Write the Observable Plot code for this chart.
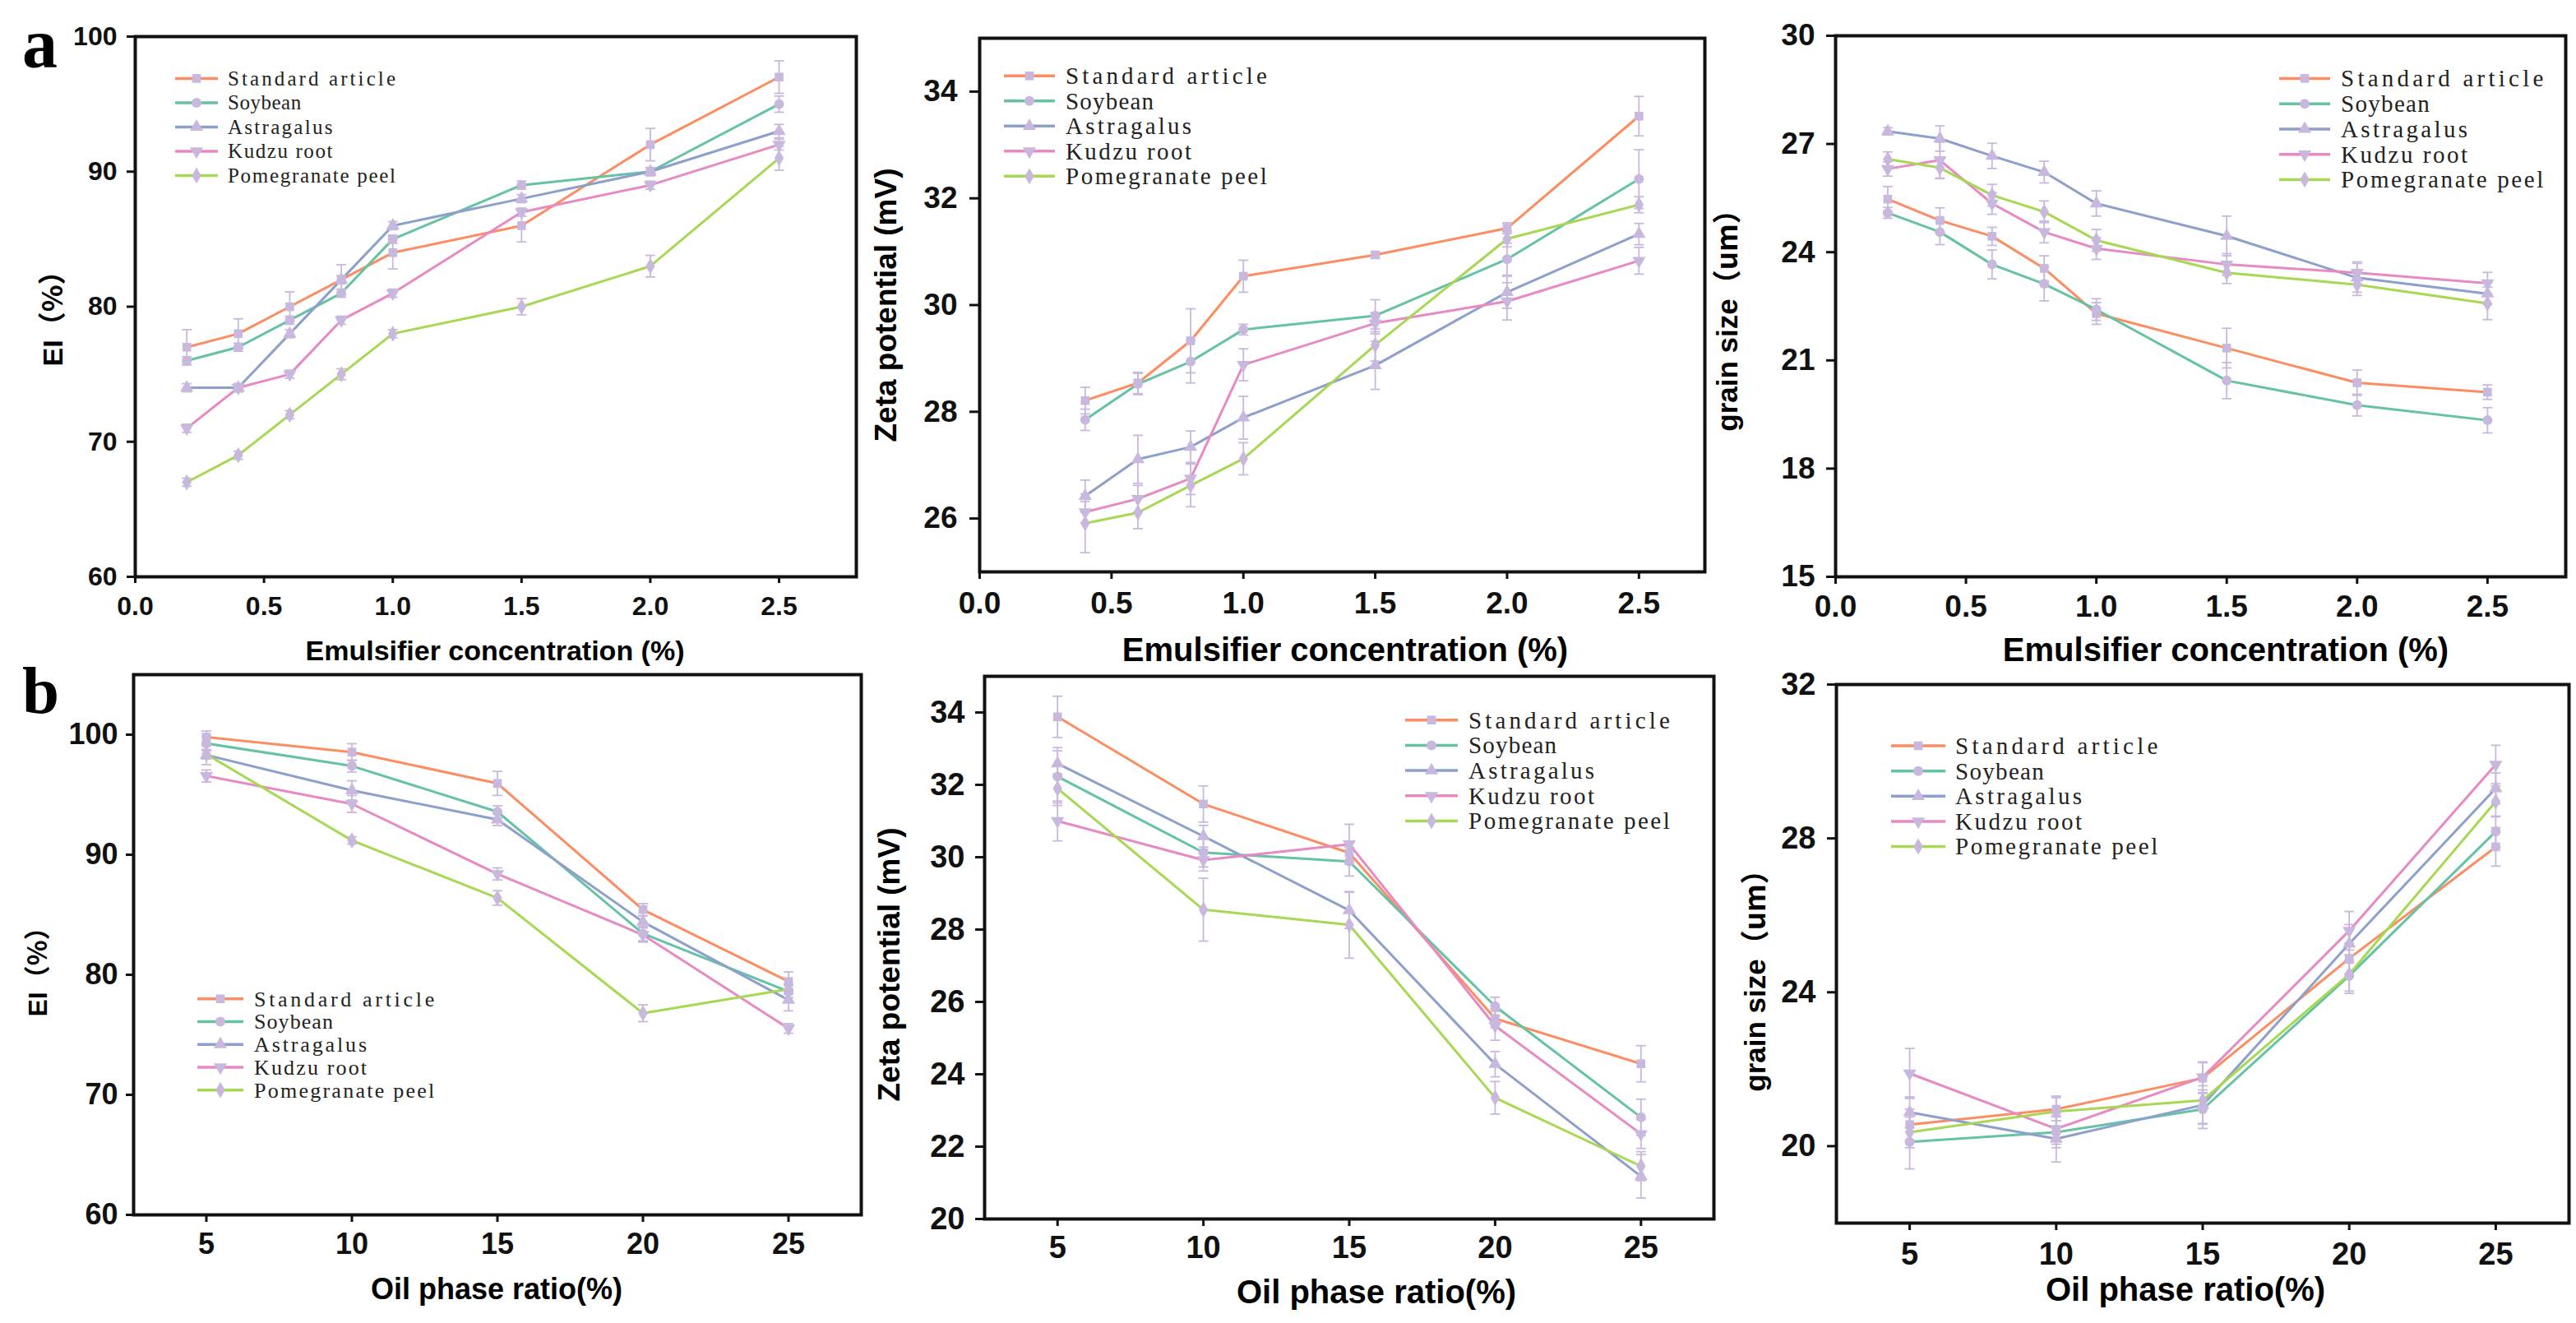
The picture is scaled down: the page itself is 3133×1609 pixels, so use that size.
<!DOCTYPE html>
<html>
<head>
<meta charset="utf-8">
<script src="https://cdn.jsdelivr.net/npm/d3@7"></script>
<script src="https://cdn.jsdelivr.net/npm/@observablehq/plot@0.6"></script>
<style>
  html, body { margin: 0; padding: 0; background: #fff; }
  #page { position: relative; width: 3133px; height: 1609px; overflow: hidden; background: #fff; }
  #page > svg, #page > figure { position: absolute; margin: 0; }
  #overlay { position: absolute; left: 0; top: 0; pointer-events: none; }
</style>
</head>
<body>
<div id="page"></div>
<script>
// ---------- data ----------
const SERIES = ["Standard article", "Soybean", "Astragalus", "Kudzu root", "Pomegranate peel"];
const COLORS = ["#fc8d62", "#66c2a5", "#8da0cb", "#e78ac3", "#a6d854"];
const MARKER = "#c8b8dd";

const CONC8 = [0.2, 0.4, 0.6, 0.8, 1.0, 1.5, 2.0, 2.5];
const CONC7 = [0.4, 0.6, 0.8, 1.0, 1.5, 2.0, 2.5];
const OIL = [5, 10, 15, 20, 25];

const CONC_TICKS = [0, 0.5, 1.0, 1.5, 2.0, 2.5];
const OIL_TICKS = [5, 10, 15, 20, 25];
const EI_TICKS_A = [60, 70, 80, 90, 100];
const ZETA_TICKS_A = [26, 28, 30, 32, 34];
const GRAIN_TICKS_A = [15, 18, 21, 24, 27, 30];
const EI_TICKS_B = [60, 70, 80, 90, 100];
const ZETA_TICKS_B = [20, 22, 24, 26, 28, 30, 32, 34];
const GRAIN_TICKS_B = [20, 24, 28, 32];

const EI_CONC = [
  [77, 78, 80, 82, 84, 86, 92, 97],
  [76, 77, 79, 81, 85, 89, 90, 95],
  [74, 74, 78, 82, 86, 88, 90, 93],
  [71, 74, 75, 79, 81, 87, 89, 92],
  [67, 69, 72, 75, 78, 80, 83, 91]
];
const EI_CONC_ERR = [
  [1.3, 1.1, 1.1, 1.1, 1.2, 1.2, 1.2, 1.2],
  [0.3, 0.3, 0.3, 0.3, 0.3, 0.3, 0.3, 0.6],
  [0.3, 0.3, 0.3, 0.3, 0.3, 0.3, 0.3, 0.5],
  [0.3, 0.3, 0.3, 0.3, 0.3, 0.3, 0.3, 0.4],
  [0.3, 0.3, 0.3, 0.4, 0.3, 0.6, 0.8, 0.9]
];

const ZETA_CONC = [
  [28.21, 28.54, 29.33, 30.54, 30.94, 31.44, 33.54],
  [27.85, 28.52, 28.94, 29.54, 29.80, 30.86, 32.36],
  [26.42, 27.11, 27.34, 27.89, 28.87, 30.24, 31.33],
  [26.12, 26.37, 26.75, 28.88, 29.66, 30.07, 30.83],
  [25.91, 26.11, 26.62, 27.12, 29.25, 31.24, 31.88]
];
const ZETA_CONC_ERR = [
  [0.25, 0.2, 0.6, 0.3, 0.06, 0.1, 0.37],
  [0.2, 0.2, 0.4, 0.1, 0.3, 0.3, 0.55],
  [0.3, 0.45, 0.3, 0.4, 0.45, 0.3, 0.2],
  [0.2, 0.25, 0.3, 0.3, 0.2, 0.35, 0.25],
  [0.55, 0.3, 0.4, 0.3, 0.3, 0.15, 0.15]
];

const GRAIN_CONC = [
  [25.47, 24.88, 24.44, 23.55, 22.30, 21.34, 20.38, 20.12],
  [25.09, 24.56, 23.66, 23.12, 22.41, 20.44, 19.76, 19.34],
  [27.35, 27.15, 26.67, 26.22, 25.35, 24.45, 23.29, 22.85],
  [26.31, 26.55, 25.35, 24.56, 24.10, 23.66, 23.43, 23.14],
  [26.58, 26.34, 25.58, 25.12, 24.33, 23.43, 23.10, 22.58]
];
const GRAIN_CONC_ERR = [
  [0.35, 0.35, 0.25, 0.35, 0.3, 0.55, 0.35, 0.2],
  [0.15, 0.35, 0.4, 0.47, 0.3, 0.5, 0.3, 0.35],
  [0.1, 0.35, 0.35, 0.3, 0.35, 0.55, 0.4, 0.3],
  [0.2, 0.5, 0.3, 0.3, 0.3, 0.3, 0.3, 0.3],
  [0.2, 0.3, 0.3, 0.3, 0.3, 0.3, 0.3, 0.45]
];

const EI_OIL = [
  [99.8, 98.55, 95.94, 85.42, 79.44],
  [99.27, 97.39, 93.58, 83.43, 78.6],
  [98.3, 95.36, 92.93, 84.41, 77.9],
  [96.56, 94.23, 88.4, 83.32, 75.53],
  [98.37, 91.19, 86.4, 76.8, 78.8]
];
const EI_OIL_ERR = [
  [0.5, 0.7, 1.0, 0.5, 0.8],
  [0.6, 0.5, 0.5, 0.6, 0.5],
  [0.8, 0.8, 0.5, 0.5, 0.9],
  [0.5, 0.7, 0.5, 0.6, 0.4],
  [0.4, 0.3, 0.6, 0.7, 0.4]
];

const ZETA_OIL = [
  [33.88, 31.47, 30.12, 25.54, 24.29],
  [32.23, 30.13, 29.88, 25.88, 22.81],
  [32.59, 30.58, 28.53, 24.28, 21.18],
  [31.0, 29.92, 30.36, 25.34, 22.35],
  [31.9, 28.55, 28.13, 23.35, 21.46]
];
const ZETA_OIL_ERR = [
  [0.57, 0.5, 0.3, 0.25, 0.5],
  [0.8, 0.4, 0.4, 0.25, 0.5],
  [0.35, 0.3, 0.5, 0.35, 0.6],
  [0.55, 0.3, 0.55, 0.4, 0.4],
  [0.4, 0.87, 0.92, 0.45, 0.4]
];

const GRAIN_OIL = [
  [20.56, 20.96, 21.77, 24.88, 27.78],
  [20.11, 20.36, 20.96, 24.43, 28.18],
  [20.88, 20.19, 21.07, 25.26, 29.30],
  [21.89, 20.45, 21.79, 25.6, 29.92],
  [20.36, 20.9, 21.19, 24.47, 28.96]
];
const GRAIN_OIL_ERR = [
  [0.4, 0.3, 0.4, 0.4, 0.5],
  [0.7, 0.4, 0.5, 0.4, 0.4],
  [0.4, 0.6, 0.5, 0.5, 0.4],
  [0.65, 0.4, 0.4, 0.5, 0.5],
  [0.4, 0.4, 0.6, 0.5, 0.4]
];

// ---------- symbols ----------
const sqrt3 = Math.sqrt(3);
const triangleDown = {
  draw(ctx, size) {
    const y = -Math.sqrt(size / (sqrt3 * 3));
    ctx.moveTo(0, -y * 2);
    ctx.lineTo(-sqrt3 * y, y);
    ctx.lineTo(sqrt3 * y, y);
    ctx.closePath();
  }
};
const capSymbol = {
  draw(ctx, size) {
    const r = Math.sqrt(size / Math.PI);
    ctx.moveTo(-r, 0);
    ctx.lineTo(r, 0);
  }
};
const SYMBOLS = [d3.symbolSquare, d3.symbolCircle, d3.symbolTriangle, triangleDown, d3.symbolDiamond];
const MR_DOT = 6;

function rowsFor(xs, values, errs) {
  const rows = [];
  values.forEach((vals, si) => vals.forEach((v, i) => rows.push({ s: SERIES[si], si, x: xs[i], y: v, e: errs[si][i] })));
  return rows;
}

const page = document.getElementById("page");
const ML = 140, MR = 12, MT = 12, MB = 70;

function panel(cfg) {
  const rows = rowsFor(cfg.xs, cfg.values, cfg.errs);
  const w = cfg.R - cfg.L, h = cfg.B - cfg.T;
  const font = "Liberation Sans, Arial, sans-serif";
  const marks = [
    Plot.axisX({ticks: cfg.xticks, tickFormat: cfg.xfmt, tickSize: cfg.xts, tickPadding: cfg.xtp,
      fontSize: cfg.fs, fontWeight: "bold", fontFamily: font, strokeWidth: 3, label: null}),
    Plot.axisY({ticks: cfg.yticks, tickFormat: d3.format("d"), tickSize: cfg.yts, tickPadding: cfg.ytp,
      fontSize: cfg.fs, fontWeight: "bold", fontFamily: font, strokeWidth: 3, label: null}),
    Plot.line(rows, {x: "x", y: "y", z: "s", stroke: "s", strokeWidth: 3}),
    Plot.ruleX(rows, {x: "x", y1: d => d.y - d.e, y2: d => d.y + d.e, stroke: MARKER, strokeWidth: 1.8}),
    Plot.dot(rows, {x: "x", y: d => d.y + d.e, symbol: capSymbol, r: 6, stroke: MARKER, strokeWidth: 1.8, fill: "none"}),
    Plot.dot(rows, {x: "x", y: d => d.y - d.e, symbol: capSymbol, r: 6, stroke: MARKER, strokeWidth: 1.8, fill: "none"})
  ];
  SYMBOLS.forEach((sym, si) => {
    marks.push(Plot.dot(rows.filter(d => d.si === si), {x: "x", y: "y", symbol: sym, r: MR_DOT, fill: MARKER, stroke: "none"}));
  });
  marks.push(Plot.frame({stroke: "#111", strokeWidth: 4}));
  const chart = Plot.plot({
    width: w + ML + MR,
    height: h + MT + MB,
    marginLeft: ML, marginRight: MR, marginTop: MT, marginBottom: MB,
    style: {fontFamily: font, fontSize: cfg.fs + "px", fontWeight: "bold", color: "#111", background: "white", overflow: "visible"},
    x: {domain: cfg.xdomain},
    y: {domain: cfg.ydomain},
    color: {domain: SERIES, range: COLORS},
    marks
  });
  chart.style.position = "absolute";
  chart.style.left = (cfg.L - ML) + "px";
  chart.style.top = (cfg.T - MT) + "px";
  chart.style.maxWidth = "none";
  page.appendChild(chart);
}

const f1 = d3.format(".1f");
const fd = d3.format("d");

panel({L: 164, R: 1041, T: 44, B: 701, xs: CONC8, values: EI_CONC, errs: EI_CONC_ERR,
  xdomain: [0, 2.8], xticks: CONC_TICKS, xfmt: f1, ydomain: [60, 100], yticks: EI_TICKS_A,
  fs: 32, xts: 8, xtp: 16, yts: 10, ytp: 12});
panel({L: 1191, R: 2073, T: 46, B: 695, xs: CONC7, values: ZETA_CONC, errs: ZETA_CONC_ERR,
  xdomain: [0, 2.75], xticks: CONC_TICKS, xfmt: f1, ydomain: [25, 35], yticks: ZETA_TICKS_A,
  fs: 37, xts: 9, xtp: 15, yts: 12, ytp: 15});
panel({L: 2232, R: 3120, T: 43, B: 701, xs: CONC8, values: GRAIN_CONC, errs: GRAIN_CONC_ERR,
  xdomain: [0, 2.8], xticks: CONC_TICKS, xfmt: f1, ydomain: [15, 30], yticks: GRAIN_TICKS_A,
  fs: 37, xts: 9, xtp: 13, yts: 11, ytp: 14});
panel({L: 162, R: 1047, T: 820, B: 1477, xs: OIL, values: EI_OIL, errs: EI_OIL_ERR,
  xdomain: [2.5, 27.5], xticks: OIL_TICKS, xfmt: fd, ydomain: [60, 105], yticks: EI_TICKS_B,
  fs: 36, xts: 9, xtp: 13, yts: 9, ytp: 10});
panel({L: 1197, R: 2084, T: 822, B: 1482, xs: OIL, values: ZETA_OIL, errs: ZETA_OIL_ERR,
  xdomain: [2.5, 27.5], xticks: OIL_TICKS, xfmt: fd, ydomain: [20, 35], yticks: ZETA_TICKS_B,
  fs: 38, xts: 9, xtp: 12, yts: 11, ytp: 13});
panel({L: 2233, R: 3124, T: 832, B: 1487, xs: OIL, values: GRAIN_OIL, errs: GRAIN_OIL_ERR,
  xdomain: [2.5, 27.5], xticks: OIL_TICKS, xfmt: fd, ydomain: [18, 32], yticks: GRAIN_TICKS_B,
  fs: 38, xts: 9, xtp: 15, yts: 11, ytp: 14});

// ---------- overlay: titles, panel letters, legends ----------
const svg = d3.select(page).append("svg").attr("id", "overlay")
  .attr("width", 3133).attr("height", 1609);
const SANS = "Liberation Sans, Arial, sans-serif";
const CJK = "Noto Sans CJK SC, sans-serif";

svg.append("text").attr("x", 27).attr("y", 82).attr("font-family", "Liberation Serif, serif")
  .attr("font-weight", "bold").attr("font-size", 86).text("a");
svg.append("text").attr("x", 27).attr("y", 867).attr("font-family", "Liberation Serif, serif")
  .attr("font-weight", "bold").attr("font-size", 81).text("b");

const xTitles = [
  {t: "Emulsifier concentration (%)", x: 602, y: 803, fs: 34},
  {t: "Emulsifier concentration (%)", x: 1636, y: 804, fs: 40},
  {t: "Emulsifier concentration (%)", x: 2707, y: 804, fs: 40},
  {t: "Oil phase ratio(%)", x: 604, y: 1580, fs: 36},
  {t: "Oil phase ratio(%)", x: 1674, y: 1585, fs: 40},
  {t: "Oil phase ratio(%)", x: 2658, y: 1582, fs: 40}
];
xTitles.forEach(d => svg.append("text").attr("x", d.x).attr("y", d.y).attr("text-anchor", "middle")
  .attr("font-family", SANS).attr("font-weight", "bold").attr("font-size", d.fs).text(d.t));

const yTitles = [
  {parts: [["EI", SANS], ["（%）", CJK]], x: 76, y: 379, fs: 34},
  {parts: [["Zeta potential (mV)", SANS]], x: 1090, y: 371, fs: 37},
  {parts: [["grain size", SANS], ["（um）", CJK]], x: 2113, y: 381, fs: 35},
  {parts: [["EI", SANS], ["（%）", CJK]], x: 57, y: 1174, fs: 32},
  {parts: [["Zeta potential (mV)", SANS]], x: 1094, y: 1173, fs: 37},
  {parts: [["grain size", SANS], ["（um）", CJK]], x: 2147, y: 1184, fs: 35}
];
yTitles.forEach(d => {
  const t = svg.append("text").attr("transform", `translate(${d.x},${d.y}) rotate(-90)`)
    .attr("text-anchor", "middle").attr("font-weight", "bold").attr("font-size", d.fs);
  d.parts.forEach(([s, f]) => t.append("tspan").attr("font-family", f).text(s));
});

const legends = [
  {x0: 213, x1: 265, tx: 277, y0: 95.4, dy: 29.5, fs: 25, cw: 12.75},
  {x0: 1221, x1: 1283, tx: 1296, y0: 92.3, dy: 30.5, fs: 29, cw: 15.3},
  {x0: 2772, x1: 2834, tx: 2847, y0: 95.4, dy: 30.75, fs: 29, cw: 15.4},
  {x0: 240, x1: 296, tx: 309, y0: 1214.7, dy: 27.75, fs: 26, cw: 13.7},
  {x0: 1709, x1: 1773, tx: 1786, y0: 875.7, dy: 30.7, fs: 29, cw: 15.3},
  {x0: 2300, x1: 2366, tx: 2378, y0: 907, dy: 30.65, fs: 29, cw: 15.4}
];
legends.forEach(L => {
  SERIES.forEach((name, i) => {
    const y = L.y0 + i * L.dy;
    svg.append("line").attr("x1", L.x0).attr("x2", L.x1).attr("y1", y).attr("y2", y)
      .attr("stroke", COLORS[i]).attr("stroke-width", 3.5);
    const size = Math.PI * MR_DOT * MR_DOT;
    svg.append("path").attr("transform", `translate(${(L.x0 + L.x1) / 2},${y})`)
      .attr("d", d3.symbol(SYMBOLS[i], size)()).attr("fill", MARKER);
    svg.append("text").attr("x", L.tx).attr("y", y + L.fs * 0.34)
      .attr("font-family", "Liberation Serif, serif").attr("font-size", L.fs).attr("fill", "#222")
      .attr("textLength", name.length * L.cw).attr("lengthAdjust", "spacing").text(name);
  });
});
</script>
</body>
</html>
